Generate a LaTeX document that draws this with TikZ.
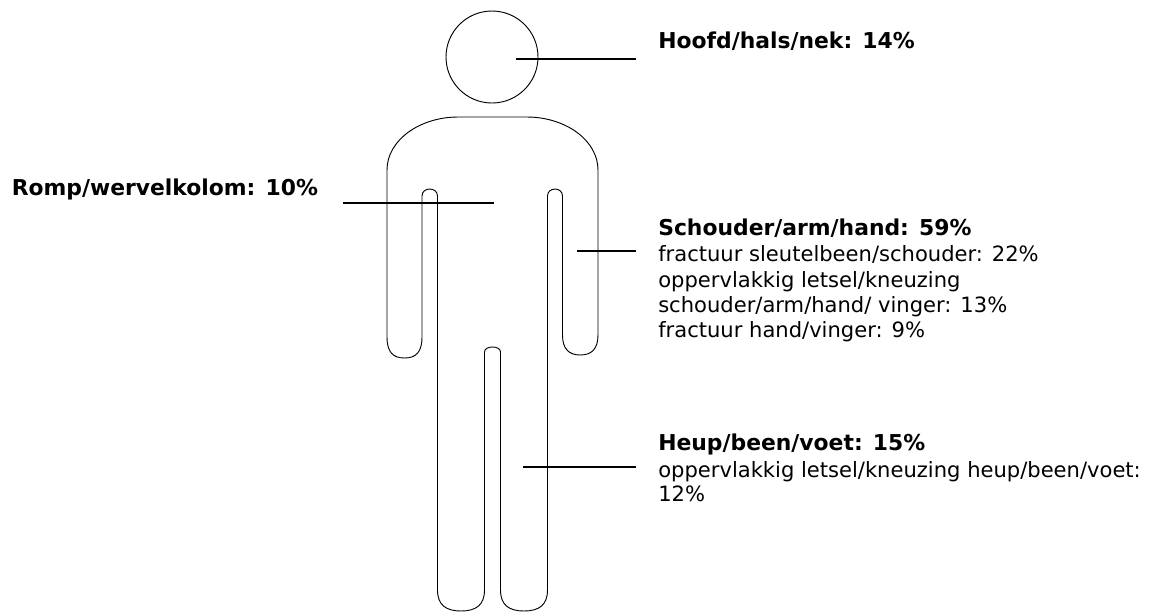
\documentclass[tikz,border=0pt]{standalone}
\usepackage{fontspec}
\setmainfont{DejaVu Sans}
\begin{document}
\begin{tikzpicture}[x=0.75pt,y=-0.75pt,
  outline/.style={draw=black,line width=0.7pt},
  leader/.style={draw=black,line width=1.1pt},
  head/.style={anchor=base west,inner sep=0pt,font=\fontsize{16.4}{19.3}\selectfont\bfseries},
  detail/.style={anchor=base west,inner sep=0pt,font=\fontsize{15.8}{19.3}\selectfont}]
\useasboundingbox (0,0) rectangle (1164,612);
% head
\draw[outline] (492,57) circle[radius=46];
% body outline
\draw[outline] (387,170) -- (387,337)
  .. controls (387,352) and (393,358) .. (404.5,358)
  .. controls (416,358) and (422,352) .. (422,337)
  -- (422,196) .. controls (422,186.7) and (437.5,186.7) .. (437.5,196)
  -- (437.5,590) .. controls (437.5,605) and (446,611) .. (461,611)
  .. controls (476,611) and (484.5,605) .. (484.5,590)
  -- (484.5,352) .. controls (484.5,345.3) and (500.5,345.3) .. (500.5,352)
  -- (500.5,590) .. controls (500.5,605) and (509,611) .. (524,611)
  .. controls (539,611) and (547.5,605) .. (547.5,590)
  -- (547.5,196) .. controls (547.5,186.7) and (562.5,186.7) .. (562.5,196)
  -- (562.5,335) .. controls (562.5,349) and (569,355) .. (580.25,355)
  .. controls (591.5,355) and (598,349) .. (598,335)
  -- (598,170) .. controls (598,140) and (565,117) .. (527,117)
  -- (458,117) .. controls (420,117) and (387,140) .. (387,170) -- cycle;
% leader end points
\coordinate (hA) at (516,59);   \coordinate (hB) at (636,59);
\coordinate (rA) at (343,203);  \coordinate (rB) at (494,203);
\coordinate (sA) at (577,251);  \coordinate (sB) at (636,251);
\coordinate (lA) at (523,467);  \coordinate (lB) at (636,467);
\draw[leader] (hA) -- (hB);
\draw[leader] (rA) -- (rB);
\draw[leader] (sA) -- (sB);
\draw[leader] (lA) -- (lB);
% labels
\node[head] (hoofd) at (658,48.3) {Hoofd/hals/nek: 14\%};
\node[head] (romp) at (11.5,195.7) {Romp/wervelkolom: 10\%};
\node[head] (schouder) at (658,235) {Schouder/arm/hand: 59\%};
\node[detail] (s1) at (658,261.7) {fractuur sleutelbeen/schouder: 22\%};
\node[detail] (s2) at (658,287) {oppervlakkig letsel/kneuzing};
\node[detail] (s3) at (658,312.7) {schouder/arm/hand/ vinger: 13\%};
\node[detail] (s4) at (658,337.7) {fractuur hand/vinger: 9\%};
\node[head] (heup) at (658,450.7) {Heup/been/voet: 15\%};
\node[detail] (l1) at (658,477.3) {oppervlakkig letsel/kneuzing heup/been/voet:};
\node[detail] (l2) at (658,501.7) {12\%};
\end{tikzpicture}
\end{document}
